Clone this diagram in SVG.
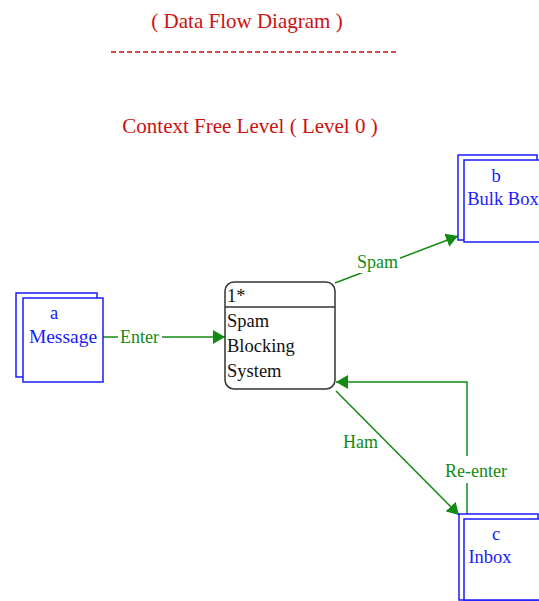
<svg xmlns="http://www.w3.org/2000/svg" width="539" height="601" viewBox="0 0 539 601">
<style>
.title{font-family:"Liberation Serif","Times New Roman",serif;font-size:21px;fill:#cc1111}
.store{fill:#fff;stroke:#1a1aff;stroke-width:1.5}
.stxt{font-family:"Liberation Serif","Times New Roman",serif;font-size:18.5px;fill:#1a1aff;text-anchor:middle}
.ptxt{font-family:"Liberation Serif","Times New Roman",serif;font-size:18.5px;fill:#111}
.flow{fill:none;stroke:#138a13;stroke-width:1.5}
.ftxt{font-family:"Liberation Serif","Times New Roman",serif;font-size:18px;fill:#138a13}
</style>
<defs>
<marker id="ah" viewBox="0 0 12 14" refX="12" refY="7" markerWidth="12" markerHeight="14" markerUnits="userSpaceOnUse" orient="auto">
<path d="M0,0 L12,7 L0,14 z" fill="#138a13"/>
</marker>
</defs>
<rect width="539" height="601" fill="#fff"/>
<g id="header">
<text class="title" x="247" y="28" text-anchor="middle">( Data Flow Diagram )</text>
<line x1="111" y1="52" x2="397" y2="52" stroke="#cc1111" stroke-width="1.5" stroke-dasharray="5 3"/>
<text class="title" x="250" y="133" text-anchor="middle">Context Free Level ( Level 0 )</text>
</g>
<g id="connectors">
<line class="flow" x1="103" y1="337" x2="225" y2="337" marker-end="url(#ah)"/>
<rect x="118" y="326" width="44" height="20" fill="#fff"/>
<text class="ftxt" x="120" y="343">Enter</text>
<line class="flow" x1="335" y1="283" x2="458" y2="236" marker-end="url(#ah)"/>
<rect x="355" y="252" width="45" height="21" fill="#fff"/>
<text class="ftxt" x="357" y="268">Spam</text>
<line class="flow" x1="336" y1="391" x2="459" y2="515" marker-end="url(#ah)"/>
<text class="ftxt" x="343" y="448">Ham</text>
<polyline class="flow" points="467,514 467,382 336,382" marker-end="url(#ah)"/>
<rect x="443" y="456" width="67" height="27" fill="#fff"/>
<text class="ftxt" x="445" y="477">Re-enter</text>
</g>
<g id="node-a">
<rect class="store" x="16" y="293" width="81" height="84"/>
<rect class="store" x="23" y="298" width="80" height="84"/>
<text class="stxt" x="54" y="319">a</text>
<text class="stxt" x="63" y="343" style="font-size:19.5px">Message</text>
</g>
<g id="node-1">
<rect x="225" y="282" width="110" height="107" rx="9" ry="9" fill="#fff" stroke="#333" stroke-width="1.5"/>
<line x1="225" y1="307" x2="335" y2="307" stroke="#333" stroke-width="1.5"/>
<text class="ptxt" x="227" y="302">1*</text>
<text class="ptxt" x="227" y="327">Spam</text>
<text class="ptxt" x="227" y="352">Blocking</text>
<text class="ptxt" x="227" y="377">System</text>
</g>
<g id="node-b">
<rect class="store" x="458" y="155" width="79" height="85"/>
<rect class="store" x="464" y="160" width="90" height="82"/>
<text class="stxt" x="496" y="182">b</text>
<text class="stxt" x="503" y="205">Bulk Box</text>
</g>
<g id="node-c">
<rect class="store" x="459" y="514" width="79" height="86"/>
<rect class="store" x="464" y="519" width="90" height="81"/>
<text class="stxt" x="496" y="540">c</text>
<text class="stxt" x="490" y="563">Inbox</text>
</g>
</svg>
